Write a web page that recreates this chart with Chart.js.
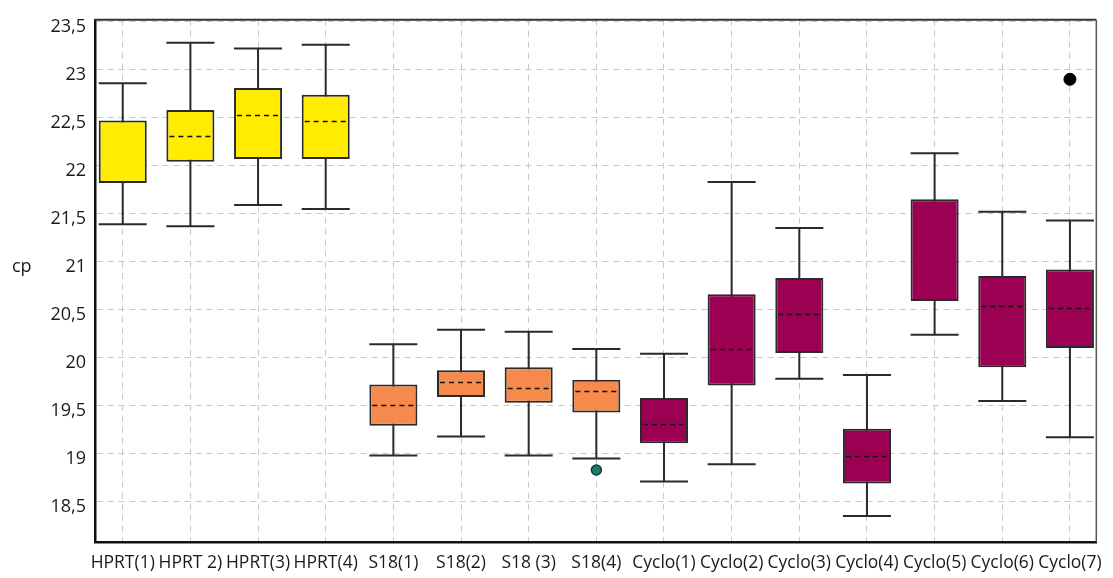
<!DOCTYPE html>
<html>
<head>
<meta charset="utf-8">
<script src="https://cdn.jsdelivr.net/npm/chart.js@4/dist/chart.umd.min.js"></script>
<style>
  html, body { margin: 0; padding: 0; background: #fff; }
  #grafico { width: 1113px; height: 578px; }
</style>
</head>
<body>
<div id="grafico"><canvas id="cv"></canvas></div>
<script>
// dados (cp)
var categorias = ['HPRT(1)', 'HPRT 2)', 'HPRT(3)', 'HPRT(4)', 'S18(1)', 'S18(2)', 'S18 (3)', 'S18(4)',
                  'Cyclo(1)', 'Cyclo(2)', 'Cyclo(3)', 'Cyclo(4)', 'Cyclo(5)', 'Cyclo(6)', 'Cyclo(7)'];
var grupos     = ['HPRT', 'HPRT', 'HPRT', 'HPRT', 'S18', 'S18', 'S18', 'S18',
                  'Cyclo', 'Cyclo', 'Cyclo', 'Cyclo', 'Cyclo', 'Cyclo', 'Cyclo'];
var minimos  = [21.39, 21.37, 21.59, 21.55, 18.98, 19.18, 18.98, 18.95, 18.71, 18.89, 19.78, 18.35, 20.24, 19.55, 19.17];
var q1       = [21.82, 22.04, 22.07, 22.07, 19.29, 19.59, 19.53, 19.43, 19.11, 19.71, 20.05, 18.69, 20.59, 19.90, 20.10];
var medianas = [null,  22.31, 22.53, 22.47, 19.51, 19.75, 19.68, 19.65, 19.31, 20.09, 20.45, 18.98, null,  20.54, 20.52];
var q3       = [22.47, 22.58, 22.81, 22.74, 19.72, 19.87, 19.90, 19.77, 19.58, 20.66, 20.83, 19.26, 21.65, 20.85, 20.92];
var maximos  = [22.86, 23.28, 23.22, 23.26, 20.14, 20.29, 20.27, 20.09, 20.04, 21.83, 21.35, 19.82, 22.13, 21.52, 21.43];
var outliersS18   = [{x: 7, y: 18.83}];
var outliersCyclo = [{x: 14, y: 22.90}];
var ticksY = [18.5, 19, 19.5, 20, 20.5, 21, 21.5, 22, 22.5, 23, 23.5];

var cores = { 'HPRT': '#ffec00', 'S18': '#f58a4c', 'Cyclo': '#9c0052' };
var fonte = "'Open Sans', 'Noto Sans', sans-serif";

var caixas = categorias.map(function(c, i){
    return { x: i, y: [q1[i], q3[i]] };
});

// bigodes (atrás das caixas) e medianas tracejadas (na frente)
var bigodes = {
    id: 'bigodes',
    beforeDatasetsDraw: function(chart){
        var ctx = chart.ctx, ys = chart.scales.y;
        var meta = chart.getDatasetMeta(0);
        ctx.save();
        ctx.strokeStyle = '#2a2a2a';
        ctx.lineWidth = 2;
        meta.data.forEach(function(bar, i){
            var w = bar.width / 2;
            var yMax = ys.getPixelForValue(maximos[i]);
            var yMin = ys.getPixelForValue(minimos[i]);
            ctx.beginPath();
            ctx.moveTo(bar.x, yMax); ctx.lineTo(bar.x, yMin);
            ctx.moveTo(bar.x - w, yMax); ctx.lineTo(bar.x + w, yMax);
            ctx.moveTo(bar.x - w, yMin); ctx.lineTo(bar.x + w, yMin);
            ctx.stroke();
        });
        ctx.restore();
    },
    afterDatasetsDraw: function(chart){
        var ctx = chart.ctx, ys = chart.scales.y, a = chart.chartArea;
        var meta = chart.getDatasetMeta(0);
        ctx.save();
        ctx.strokeStyle = '#111';
        ctx.lineWidth = 1.6;
        ctx.setLineDash([5, 4]);
        meta.data.forEach(function(bar, i){
            if(medianas[i] == null) return;
            var w = bar.width / 2 - 3;
            var y = Math.round(ys.getPixelForValue(medianas[i])) + 0.5;
            ctx.beginPath();
            ctx.moveTo(bar.x - w, y); ctx.lineTo(bar.x + w, y);
            ctx.stroke();
        });
        ctx.restore();

        // moldura de cima e da direita
        ctx.save();
        ctx.strokeStyle = '#333';
        ctx.lineWidth = 2;
        ctx.beginPath();
        ctx.moveTo(a.left, a.top); ctx.lineTo(a.right, a.top);
        ctx.stroke();
        ctx.strokeStyle = '#555';
        ctx.lineWidth = 1.5;
        ctx.beginPath();
        ctx.moveTo(a.right, a.top); ctx.lineTo(a.right, a.bottom);
        ctx.stroke();
        ctx.restore();

        // rótulo do eixo y, na horizontal
        ctx.save();
        ctx.fillStyle = '#1a1a1a';
        ctx.font = '18px ' + fonte;
        ctx.textBaseline = 'middle';
        ctx.textAlign = 'left';
        ctx.fillText('cp', 12, ys.getPixelForValue(21) + 5);
        ctx.restore();
    }
};

var chart = new Chart(document.getElementById('cv').getContext('2d'), {
    data: {
        datasets: [{
            type: 'bar',
            data: caixas,
            backgroundColor: grupos.map(function(g){ return cores[g]; }),
            borderColor: '#2a2a2a',
            borderWidth: 2,
            borderSkipped: false,
            categoryPercentage: 1,
            barPercentage: 0.71
        }, {
            type: 'scatter',
            data: outliersS18,
            pointRadius: 5,
            backgroundColor: '#1f7a6e',
            borderColor: '#0d3d37',
            borderWidth: 1.5
        }, {
            type: 'scatter',
            data: outliersCyclo,
            pointRadius: 6,
            backgroundColor: '#000',
            borderColor: '#000',
            borderWidth: 1
        }]
    },
    options: {
        responsive: true,
        maintainAspectRatio: false,
        animation: false,
        events: [],
        layout: { padding: { top: 14, right: 13, left: 0, bottom: 0 } },
        plugins: {
            legend: { display: false },
            tooltip: { enabled: false }
        },
        scales: {
            x: {
                type: 'linear',
                offset: false,
                min: -0.41,
                max: 14.39,
                afterBuildTicks: function(axis){
                    axis.ticks = categorias.map(function(c, i){ return { value: i }; });
                },
                afterFit: function(axis){ axis.height = 36; },
                ticks: {
                    autoSkip: false,
                    maxRotation: 0,
                    padding: 11,
                    color: '#1a1a1a',
                    font: { family: fonte, size: 17.5 },
                    callback: function(v){ return categorias[v]; }
                },
                grid: { offset: false, color: '#c8c8c8', lineWidth: 1, drawTicks: false },
                border: { display: true, color: '#111', width: 2.5, dash: [6, 5] }
            },
            y: {
                min: 18.08,
                max: 23.52,
                afterBuildTicks: function(axis){
                    axis.ticks = ticksY.map(function(v){ return { value: v }; });
                },
                afterFit: function(axis){ axis.width = 95; },
                ticks: {
                    padding: 9,
                    labelOffset: 5,
                    color: '#1a1a1a',
                    font: { family: fonte, size: 18 },
                    callback: function(v){ return String(v).replace('.', ','); }
                },
                grid: { color: '#c8c8c8', lineWidth: 1, drawTicks: false },
                border: { display: true, color: '#111', width: 2.5, dash: [6, 5] }
            }
        }
    },
    plugins: [bigodes]
});
</script>
</body>
</html>
